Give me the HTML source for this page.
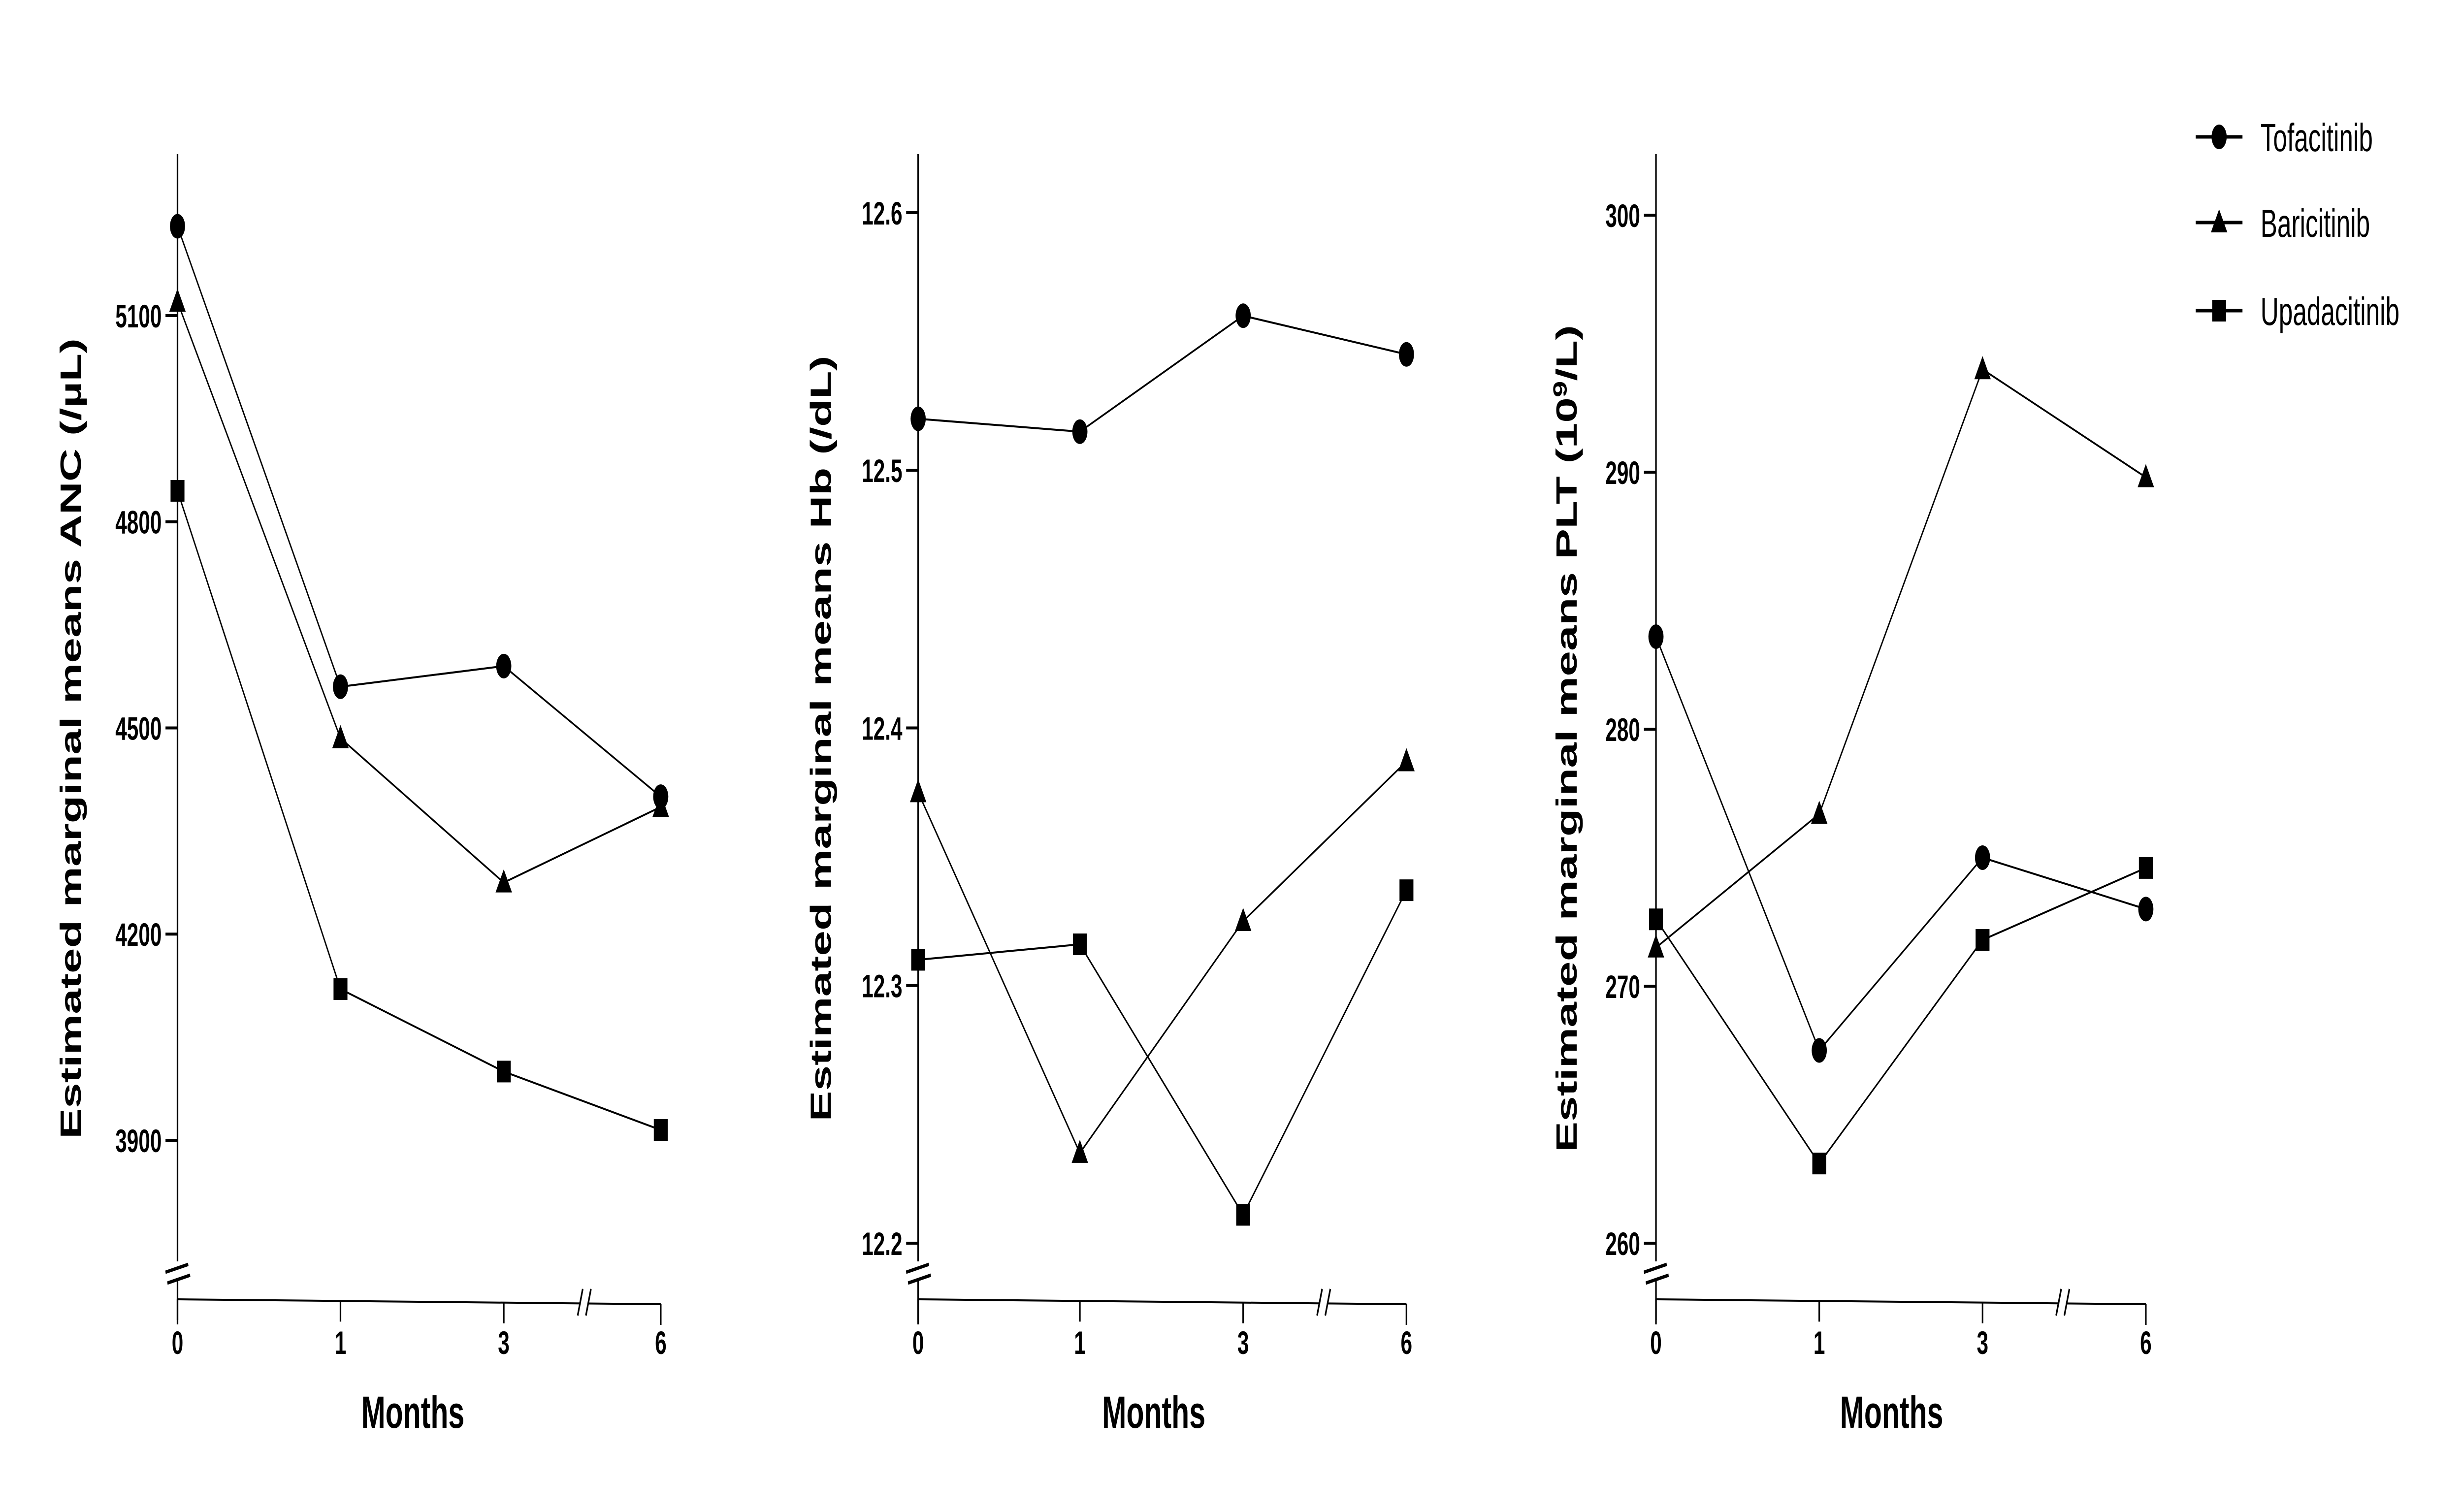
<!DOCTYPE html>
<html><head><meta charset="utf-8"><style>
html,body{margin:0;padding:0;background:#fff;width:100%;height:100%;overflow:hidden;}
svg{display:block;position:absolute;left:0;top:0;width:100vw;height:100vh;}
text{font-family:"Liberation Sans",Arial,sans-serif;fill:#000;}
</style></head><body>
<svg id="chart" xmlns="http://www.w3.org/2000/svg" viewBox="0 0 7795 3071" preserveAspectRatio="none">
<g id="legend"></g>
</svg>
<script>
const months = [0, 1, 3, 6];
const seriesNames = ["Tofacitinib", "Baricitinib", "Upadacitinib"];
const markerShapes = ["circle", "triangle", "square"];
// ANC panel
const ancTicks = [3900, 4200, 4500, 4800, 5100];
const ancTofa = [5230, 4560, 4590, 4400];
const ancBari = [5120, 4485, 4275, 4385];
const ancUpa = [4845, 4120, 4000, 3915];
// Hb panel
const hbTicks = [12.2, 12.3, 12.4, 12.5, 12.6];
const hbTofa = [12.52, 12.515, 12.56, 12.545];
const hbBari = [12.375, 12.235, 12.325, 12.387];
const hbUpa = [12.31, 12.316, 12.211, 12.337];
// PLT panel
const pltTicks = [260, 270, 280, 290, 300];
const pltTofa = [283.6, 267.5, 275, 273];
const pltBari = [271.5, 276.7, 294, 289.8];
const pltUpa = [272.6, 263.1, 271.8, 274.6];

const NS = "http://www.w3.org/2000/svg";
const svg = document.getElementById("chart");
function mk(tag, attrs, parent){
  const e = document.createElementNS(NS, tag);
  for (const k in attrs) e.setAttribute(k, attrs[k]);
  (parent||svg).appendChild(e);
  return e;
}
function marker(shape, cx, cy, parent){
  let e;
  if (shape === "circle") e = mk("ellipse", {cx:cx, cy:cy, rx:24, ry:25, fill:"#000"}, parent);
  else if (shape === "triangle") e = mk("polygon", {points:(cx)+","+(cy-27)+" "+(cx-26)+","+(cy+20)+" "+(cx+26)+","+(cy+20), fill:"#000"}, parent);
  else e = mk("rect", {x:cx-22, y:cy-22, width:44, height:44, fill:"#000"}, parent);
  return e;
}

const panels = [
  {key:"anc", ax:562, xpos:[562,1078,1595,2092], tickVals:ancTicks, yLo:3900, yLoPx:2316, yHi:5100, yHiPx:641,
   fmt:v=>String(v), series:[ancTofa, ancBari, ancUpa], titleX:224, title:"Estimated marginal means ANC (/µL)", sup:null, monthsX:1307, breakX:1849},
  {key:"hb", ax:2907, xpos:[2907,3419,3936,4453], tickVals:hbTicks, yLo:12.2, yLoPx:2525, yHi:12.6, yHiPx:432,
   fmt:v=>v.toFixed(1), series:[hbTofa, hbBari, hbUpa], titleX:2599, title:"Estimated marginal means Hb (/dL)", sup:null, monthsX:3653, breakX:4190},
  {key:"plt", ax:5243, xpos:[5243,5760,6277,6794], tickVals:pltTicks, yLo:260, yLoPx:2525, yHi:300, yHiPx:437,
   fmt:v=>String(v), series:[pltTofa, pltBari, pltUpa], titleX:4960, title:"PLT", sup:true, monthsX:5989, breakX:6530}
];

panels.forEach(p=>{
  const g = mk("g", {});
  
  
  const y = v => p.yLoPx + (v - p.yLo) * (p.yHiPx - p.yLoPx) / (p.yHi - p.yLo);
  const x3 = p.xpos[3];
  const axY0 = 2639, axY1 = 2649;
  const ya = mk("line", {x1:p.ax, y1:313, x2:p.ax, y2:2690, stroke:"#000", "stroke-width":5}, g);
  
  
  const yb = mk("g", {}, g);
  
  
  mk("rect", {x:p.ax-10, y:2562, width:20, height:40, fill:"#fff"}, yb);
  mk("line", {x1:p.ax-38, y1:2584, x2:p.ax+34, y2:2568, stroke:"#000", "stroke-width":7}, yb);
  mk("line", {x1:p.ax-32, y1:2606, x2:p.ax+40, y2:2590, stroke:"#000", "stroke-width":7}, yb);
  const xa = mk("line", {x1:p.ax, y1:axY0, x2:x3, y2:axY1, stroke:"#000", "stroke-width":4}, g);
  
  
  const xb = mk("g", {}, g);
  
  
  mk("rect", {x:p.breakX-10, y:2625, width:22, height:35, fill:"#fff"}, xb);
  mk("line", {x1:p.breakX-20, y1:2672, x2:p.breakX-4, y2:2618, stroke:"#000", "stroke-width":5}, xb);
  mk("line", {x1:p.breakX+6, y1:2672, x2:p.breakX+22, y2:2618, stroke:"#000", "stroke-width":5}, xb);
  p.tickVals.forEach(v=>{
    const ty = y(v);
    const t = mk("line", {x1:p.ax-38, y1:ty, x2:p.ax, y2:ty, stroke:"#000", "stroke-width":6}, g);
    
    
    const lb = mk("text", {x:p.ax-50, y:ty+24, "text-anchor":"end", "font-size":66, "font-weight":"bold"}, g);
    lb.textContent = p.fmt(v);
    
    
  });
  months.forEach((m,i)=>{
    const tx = p.xpos[i];
    const ty0 = axY0 + (axY1-axY0)*(tx-p.ax)/(x3-p.ax);
    const t = mk("line", {x1:tx, y1:ty0, x2:tx, y2:ty0+42, stroke:"#000", "stroke-width":5}, g);
    
    
    const lb = mk("text", {x:tx, y:2750, "text-anchor":"middle", "font-size":66, "font-weight":"bold"}, g);
    lb.textContent = String(m);
    
    
  });
  const mt = mk("text", {x:p.monthsX, y:2900, "text-anchor":"middle", "font-size":92, "font-weight":"bold"}, g);
  mt.textContent = "Months";
  
  
  const yt = mk("text", {x:0, y:0, "text-anchor":"middle", "font-size":93, "font-weight":"bold", transform:"translate("+(p.titleX+32)+",1500) rotate(-90)"}, g);
  if (p.sup) {
    yt.appendChild(document.createTextNode("Estimated marginal means PLT (10"));
    const s = mk("tspan", {dy:-32, "font-size":60}, yt); s.textContent = "9";
    const r = mk("tspan", {dy:32}, yt); r.textContent = "/L)";
  } else yt.textContent = p.title;
  
  
  p.series.forEach((vals, si)=>{
    const sg = mk("g", {}, g);
    
    
    const pts = vals.map((v,i)=>p.xpos[i]+","+y(v)).join(" ");
    mk("polyline", {points:pts, fill:"none", stroke:"#000", "stroke-width":4}, sg);
    vals.forEach((v,i)=>{
      const m = marker(markerShapes[si], p.xpos[i], y(v), sg);
      
      
    });
  });
});

const lg = document.getElementById("legend");
const legY = [278, 452, 631];
seriesNames.forEach((n,i)=>{
  const e = mk("g", {}, lg);
  
  
  mk("line", {x1:6952, y1:legY[i], x2:7100, y2:legY[i], stroke:"#000", "stroke-width":7}, e);
  marker(markerShapes[i], 7026, legY[i], e);
  const t = mk("text", {x:7157, y:legY[i]+29, "font-size":80}, e);
  t.textContent = n;
});
</script>
</body></html>
